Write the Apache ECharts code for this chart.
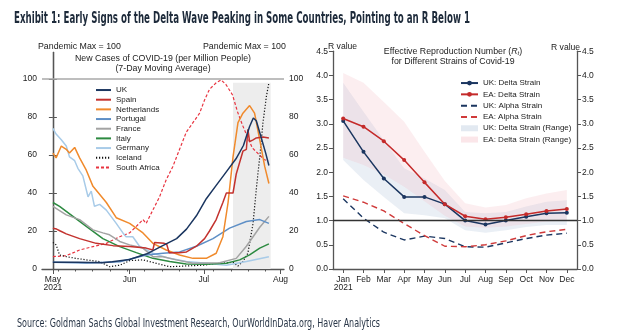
<!DOCTYPE html>
<html>
<head>
<meta charset="utf-8">
<script src="https://cdn.jsdelivr.net/npm/echarts@6/dist/echarts.min.js"></script>
<style>html,body{margin:0;padding:0;background:#fff;}#c{width:624px;height:336px;}</style>
</head>
<body>
<div id="c"></div>
<script>
// ---------- Left chart: new cases, day offset from 1 May 2021 ----------
const monthTickDays = [0, 31, 61, 92];
const monthTickLabels = ['May\n2021', 'Jun', 'Jul', 'Aug'];
const weekTickDays = [2, 9, 16, 23, 30, 37, 44, 51, 58, 65, 72, 79, 86];
const casesTicks = [0, 20, 40, 60, 80, 100];
const shadeRange = [72.8, 88];

const ukCases = [[0,3.5],[10,3.5],[20,3.3],[24,3.8],[31,5],[38,8],[44,12],[50,16],[54,21],[58,28],[62,37],[66,44],[70,51],[74,58],[77,65],[79.5,75],[81,79.5],[82.2,78],[84,70],[86,61],[87.3,54.5]];
const spainCases = [[0,21.5],[1.5,21],[3,20],[5.4,18.5],[10.8,16],[17.5,13.5],[24.3,12.3],[31,11.8],[37.7,11],[40.4,10],[41.1,14],[45,13.5],[46,13],[47,8.5],[51,8.5],[54,9],[58,12],[61.3,16],[63.3,20],[66,26],[68.7,35],[70.1,40],[72.8,40],[74.1,50],[76.8,62],[78.2,63],[78.8,73.5],[79.5,67],[80.9,68],[82.2,69],[84.9,69.5],[87.3,69]];
const netherlandsCases = [[0,61],[1.3,58.5],[3.4,64.7],[5.4,63],[6.7,61],[8.8,64],[10.8,58.5],[13.5,52],[16.2,43.5],[21.6,35],[25.6,27],[31,24],[36.4,19],[40.4,13.5],[45.8,10],[51.2,7.4],[56.6,5.6],[62,5.6],[66,8.3],[68.7,17],[70.8,35],[72.8,59],[74.8,77],[76.8,82],[79.5,86],[81.5,82],[83.6,68],[85.6,54],[87.3,45]];
const portugalCases = [[0,3.5],[13.5,3.2],[27,3.8],[37.7,7.4],[44.5,8.3],[51.2,9],[58,12],[64.7,16],[71.4,21.5],[78.2,25],[83.6,26],[87.3,24]];
const franceCases = [[0,33],[5.4,28.5],[10.8,26],[16.2,20.6],[20.2,19],[22.9,18],[27,14.5],[31,12.7],[36.4,11],[40.4,6.5],[44.5,6.5],[49.9,4.8],[56.6,3],[67.4,3.3],[74.1,5.6],[78.2,12],[80.9,17],[83.6,22],[87.3,27.7]];
const italyCases = [[0,35],[2.7,33],[8.1,27.7],[13.5,22.4],[20.2,16],[27,11.8],[33.7,8.6],[40.4,5.6],[47.2,3.9],[53.9,2.6],[62,2.5],[70.1,3],[75.5,4.8],[79.5,7.4],[83.6,11],[87.3,13.2]];
const germanyCases = [[0,74],[1.3,71],[3.4,68],[5.4,64.7],[6.7,59],[8.8,57],[10.1,53],[12.1,49],[14.2,38],[15.5,41],[16.8,33],[18.9,34],[21.6,31],[25.6,24],[28.3,19],[29.6,17],[32.3,17],[35,12],[40.4,8.3],[47.2,5.6],[53.9,3.9],[62,3],[70.1,2],[78.2,3.9],[87.3,6.5]];
const icelandCases = [[0,14],[1.3,12.7],[2.7,7.4],[5.4,6.5],[9.4,5.6],[13.5,4.8],[18.9,3.9],[22.9,1.2],[27,2],[31,4.4],[36.4,4.8],[41.8,3],[47.2,1.2],[53.9,1.6],[60.6,2],[67.4,3],[72.8,3.5],[74.8,1.6],[76.8,3.9],[78.8,8.3],[80.9,24],[82.2,42],[83.6,59],[84.9,77],[86.3,91],[87.3,98]];
const southAfricaCases = [[0,6.5],[5.4,7],[10.8,10],[16.2,11.8],[21.6,13.5],[27,17],[31,19],[33.7,22.4],[36.4,26],[37.7,24],[40.4,31],[43.1,38],[45.8,47],[48.5,54],[51.2,63],[53.9,72],[56.6,77],[59.3,82],[61.3,89],[63.3,94.6],[66,98],[68,99.5],[70,97],[72.6,91.6],[74.6,82.8],[76.6,75.8],[78,71.5],[80.6,63.7],[83.5,60],[85.5,57.5],[87,57]];

// ---------- Right chart: effective reproduction number ----------
const months = ['Jan\n2021','Feb','Mar','Apr','May','Jun','Jul','Aug','Sep','Oct','Nov','Dec'];
const ukDelta = [3.06,2.42,1.87,1.49,1.49,1.34,1.0,0.92,1.0,1.08,1.15,1.16];
const eaDelta = [3.11,2.94,2.64,2.25,1.79,1.34,1.09,1.03,1.07,1.13,1.2,1.24];
const ukAlpha = [1.45,1.05,0.76,0.6,0.68,0.63,0.46,0.45,0.54,0.63,0.7,0.74];
const eaAlpha = [1.51,1.38,1.2,0.94,0.69,0.47,0.46,0.5,0.58,0.69,0.77,0.82];
const ukDeltaLow = [2.25,1.84,1.49,1.15,1.11,1.05,0.8,0.75,0.8,0.87,0.91,0.91];
const ukDeltaHigh = [3.85,3.25,2.66,2.08,1.87,1.63,1.18,1.15,1.18,1.29,1.39,1.42];
const eaDeltaLow = [2.3,2.15,1.95,1.7,1.4,1.1,0.88,0.85,0.88,0.93,0.98,1.0];
const eaDeltaHigh = [4.05,3.85,3.45,3.04,2.42,1.82,1.36,1.27,1.32,1.46,1.56,1.63];

const FONT = '"Liberation Sans", Arial, sans-serif';
const TXT = '#222';
const AX = '#555';
const FS = 8.5;

const C = {
  uk: '#1b3660', spain: '#c3322e', nl: '#f08a2c', pt: '#5e8fc6', fr: '#a3a3a3',
  it: '#2c8a40', de: '#a8cbe8', is: '#111', za: '#e8333f'
};
const UKBAND = 'rgba(178,196,218,0.38)';
const EABAND = 'rgba(242,178,188,0.32)';

// pick a condensed font if available, and fit header/footer text to the reference width
const mctx = document.createElement('canvas').getContext('2d');
function w(font, t) { mctx.font = font; return mctx.measureText(t).width; }
function pickFont(list, weight, size) {
  const probe = 'Exhibit 1: Early Signs of the Delta Wave';
  for (const f of list) {
    const a = w(weight + ' ' + size + 'px "' + f + '", monospace', probe);
    const b = w(weight + ' ' + size + 'px monospace', probe);
    if (Math.abs(a - b) > 0.5) return '"' + f + '"';
  }
  return '"Liberation Sans"';
}
const condensed = ['Liberation Sans Narrow', 'DejaVu Sans Condensed', 'Roboto Condensed', 'Open Sans Condensed', 'Liberation Sans'];
const TITLE = 'Exhibit 1: Early Signs of the Delta Wave Peaking in Some Countries, Pointing to an R Below 1';
const SOURCE = 'Source: Goldman Sachs Global Investment Research, OurWorldInData.org, Haver Analytics';
const titleFont = 'bold 15px ' + pickFont(condensed, 'bold', 15) + ', sans-serif';
const sourceFont = 'normal 12.5px ' + pickFont(condensed, 'normal', 12.5) + ', sans-serif';
const titleScale = 456 / w(titleFont, TITLE);
const sourceScale = 363 / w(sourceFont, SOURCE);

function lineS(name, data, color, type, width) {
  return {
    name, type: 'line', data, xAxisIndex: 0, yAxisIndex: 0, symbol: 'none',
    lineStyle: { color, width: width || 1.5, type: type || 'solid' }, itemStyle: { color },
    z: 3, animation: false
  };
}

const diff = (hi, lo) => hi.map((v, i) => +(v - lo[i]).toFixed(3));

const chart = echarts.init(document.getElementById('c'), null, { renderer: 'canvas' });

const noSym = { opacity: 0 };
const option = {
  animation: false,
  textStyle: { fontFamily: FONT },
  grid: [
    { left: 42, right: 340, top: 52.4, bottom: 67, containLabel: false },
    { left: 333, right: 47, top: 51.2, bottom: 67, containLabel: false }
  ],
  xAxis: [
    { type: 'value', gridIndex: 0, min: -4.4, max: 93.4, position: 'bottom',
      axisLine: { show: true, lineStyle: { color: AX, width: 1.3 } },
      axisTick: { show: true, customValues: monthTickDays, length: 5, lineStyle: { color: AX } },
      axisLabel: { customValues: monthTickDays, formatter: v => monthTickLabels[monthTickDays.indexOf(v)] || '',
        color: TXT, fontSize: FS, lineHeight: 8.5, margin: 6 },
      splitLine: { show: false } },
    { type: 'value', gridIndex: 0, min: -4.4, max: 93.4, position: 'bottom',
      axisLine: { show: false },
      axisTick: { show: true, customValues: weekTickDays, length: 2.5, lineStyle: { color: AX } },
      axisLabel: { show: false }, splitLine: { show: false } },
    { type: 'category', gridIndex: 1, data: months, boundaryGap: true,
      axisLine: { show: true, lineStyle: { color: AX, width: 1.3 } },
      axisTick: { show: true, alignWithLabel: true, length: 4, lineStyle: { color: AX } },
      axisLabel: { color: TXT, fontSize: FS, lineHeight: 8.5, margin: 6, interval: 0 } }
  ],
  yAxis: [
    { type: 'value', gridIndex: 0, min: 0, max: 114, position: 'left',
      axisLine: { show: true, lineStyle: { color: AX, width: 1.3 } },
      axisTick: { show: true, customValues: casesTicks, length: 4, lineStyle: { color: AX } },
      axisLabel: { customValues: casesTicks, color: TXT, fontSize: FS, margin: 5 },
      splitLine: { show: false } },
    { type: 'value', gridIndex: 0, min: 0, max: 114, position: 'right',
      axisLine: { show: true, lineStyle: { color: AX, width: 1.3 } },
      axisTick: { show: true, customValues: casesTicks, length: 4, lineStyle: { color: AX } },
      axisLabel: { customValues: casesTicks, color: TXT, fontSize: FS, margin: 5 },
      splitLine: { show: false } },
    { type: 'value', gridIndex: 1, min: 0, max: 4.5, interval: 0.5, position: 'left',
      axisLine: { show: true, lineStyle: { color: AX, width: 1.3 } },
      axisTick: { show: true, length: 4, lineStyle: { color: AX } },
      axisLabel: { color: TXT, fontSize: FS, margin: 5, formatter: v => v.toFixed(1) },
      splitLine: { show: false } },
    { type: 'value', gridIndex: 1, min: 0, max: 4.5, interval: 0.5, position: 'right',
      axisLine: { show: true, lineStyle: { color: AX, width: 1.3 } },
      axisTick: { show: true, length: 4, lineStyle: { color: AX } },
      axisLabel: { color: TXT, fontSize: FS, margin: 5, formatter: v => v.toFixed(1) },
      splitLine: { show: false } }
  ],
  legend: [
    { orient: 'vertical', left: 95, top: 85.2, padding: 0, itemWidth: 15, itemHeight: 6, itemGap: 0,
      itemStyle: noSym,
      data: ['UK','Spain','Netherlands','Portugal','France','Italy','Germany','Iceland','South Africa'],
      textStyle: { fontSize: 8, lineHeight: 9.67, color: TXT } },
    { orient: 'vertical', left: 460, top: 77.4, padding: 0, itemWidth: 17, itemHeight: 6, itemGap: 0,
      data: [
        { name: 'UK: Delta Strain', itemStyle: { opacity: 1 } },
        { name: 'EA: Delta Strain', itemStyle: { opacity: 1 } },
        { name: 'UK: Alpha Strain', itemStyle: noSym },
        { name: 'EA: Alpha Strain', itemStyle: noSym },
        { name: 'UK: Delta Strain (Range)', icon: 'rect', itemStyle: { color: UKBAND } },
        { name: 'EA: Delta Strain (Range)', icon: 'rect', itemStyle: { color: EABAND } }
      ],
      textStyle: { fontSize: 8, lineHeight: 11.3, color: TXT } }
  ],
  graphic: [
    { type: 'text', x: 14, y: 19, scaleX: titleScale,
      style: { text: TITLE, font: titleFont, fill: '#1d2a3a', verticalAlign: 'middle' } },
    { type: 'text', x: 17, y: 324, scaleX: sourceScale,
      style: { text: SOURCE, font: sourceFont, fill: '#2a3748', verticalAlign: 'middle' } },
    { type: 'text', x: 38, y: 47, style: { text: 'Pandemic Max = 100', font: '8.8px ' + FONT, fill: TXT, verticalAlign: 'middle' } },
    { type: 'text', x: 203, y: 47, style: { text: 'Pandemic Max = 100', font: '8.8px ' + FONT, fill: TXT, verticalAlign: 'middle' } },
    { type: 'text', x: 163, y: 54, style: { text: 'New Cases of COVID-19 (per Million People)\n(7-Day Moving Average)', font: '8.8px ' + FONT, fill: TXT, align: 'center', lineHeight: 9.5 } },
    { type: 'text', x: 328, y: 47, style: { text: 'R value', font: '8.6px ' + FONT, fill: TXT, verticalAlign: 'middle' } },
    { type: 'text', x: 551, y: 47.5, style: { text: 'R value', font: '8.6px ' + FONT, fill: TXT, verticalAlign: 'middle' } },
    { type: 'text', x: 453, y: 47,
      style: { text: '{n|Effective Reproduction Number (}{i|R}{s|t}{n|)}\n{n|for Different Strains of Covid-19}',
        align: 'center', fill: TXT,
        rich: {
          n: { fontSize: 8.8, fontFamily: FONT, color: TXT, lineHeight: 9.5 },
          i: { fontSize: 8.8, fontFamily: FONT, fontStyle: 'italic', color: TXT, lineHeight: 9.5 },
          s: { fontSize: 6, fontFamily: FONT, fontStyle: 'italic', color: TXT, lineHeight: 9.5, padding: [3,0,0,0], verticalAlign: 'bottom' }
        } } }
  ],
  series: [
    Object.assign(lineS('South Africa', southAfricaCases, C.za, [3, 2], 1.2), {
      markArea: { silent: true, itemStyle: { color: '#ededed' }, data: [[{ xAxis: shadeRange[0], yAxis: 0 }, { xAxis: shadeRange[1], yAxis: 98 }]] },
      markLine: { silent: true, symbol: 'none', label: { show: false }, lineStyle: { color: '#a8a8a8', width: 1.5, type: 'solid' }, data: [{ yAxis: 100 }] },
      z: 2 }),
    lineS('Iceland', icelandCases, C.is, [1.2, 1.8], 1.2),
    lineS('Germany', germanyCases, C.de),
    lineS('Italy', italyCases, C.it),
    lineS('France', franceCases, C.fr),
    lineS('Portugal', portugalCases, C.pt),
    lineS('Netherlands', netherlandsCases, C.nl),
    lineS('Spain', spainCases, C.spain),
    lineS('UK', ukCases, C.uk),

    // bands
    { type: 'line', xAxisIndex: 2, yAxisIndex: 2, stack: 'ukband', data: ukDeltaLow, symbol: 'none', lineStyle: { opacity: 0 }, z: 1, silent: true },
    { name: 'UK: Delta Strain (Range)', type: 'line', xAxisIndex: 2, yAxisIndex: 2, stack: 'ukband', data: diff(ukDeltaHigh, ukDeltaLow), symbol: 'none',
      lineStyle: { opacity: 0 }, itemStyle: { color: UKBAND }, areaStyle: { color: UKBAND }, z: 1, silent: true },
    { type: 'line', xAxisIndex: 2, yAxisIndex: 2, stack: 'eaband', data: eaDeltaLow, symbol: 'none', lineStyle: { opacity: 0 }, z: 1, silent: true },
    { name: 'EA: Delta Strain (Range)', type: 'line', xAxisIndex: 2, yAxisIndex: 2, stack: 'eaband', data: diff(eaDeltaHigh, eaDeltaLow), symbol: 'none',
      lineStyle: { opacity: 0 }, itemStyle: { color: EABAND }, areaStyle: { color: EABAND }, z: 1, silent: true },

    { name: 'UK: Alpha Strain', type: 'line', xAxisIndex: 2, yAxisIndex: 2, data: ukAlpha, symbol: 'none',
      lineStyle: { color: '#1b3660', width: 1.4, type: [6, 4] }, itemStyle: { color: '#1b3660' }, z: 3,
      markLine: { silent: true, symbol: 'none', label: { show: false }, lineStyle: { color: '#333', width: 1.3, type: 'solid' }, data: [{ yAxis: 1 }] } },
    { name: 'EA: Alpha Strain', type: 'line', xAxisIndex: 2, yAxisIndex: 2, data: eaAlpha, symbol: 'none',
      lineStyle: { color: '#d03a3a', width: 1.4, type: [6, 4] }, itemStyle: { color: '#d03a3a' }, z: 3 },
    { name: 'UK: Delta Strain', type: 'line', xAxisIndex: 2, yAxisIndex: 2, data: ukDelta, symbol: 'circle', symbolSize: 4,
      lineStyle: { color: '#1b3660', width: 1.5 }, itemStyle: { color: '#1b3660' }, z: 4 },
    { name: 'EA: Delta Strain', type: 'line', xAxisIndex: 2, yAxisIndex: 2, data: eaDelta, symbol: 'circle', symbolSize: 4,
      lineStyle: { color: '#c42a2a', width: 1.5 }, itemStyle: { color: '#c42a2a' }, z: 4 }
  ]
};
chart.setOption(option);
</script>
</body>
</html>
